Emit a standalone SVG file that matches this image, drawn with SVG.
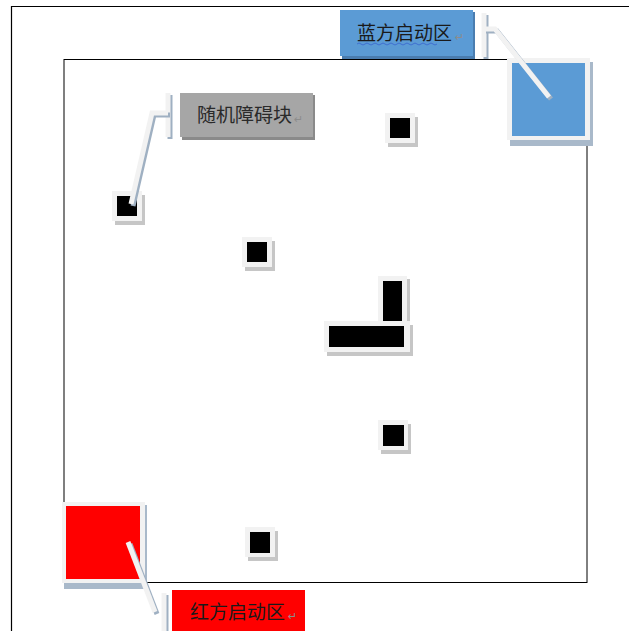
<svg xmlns="http://www.w3.org/2000/svg" width="629" height="631" viewBox="0 0 629 631">
<style>
.frame{fill:#f2f2f2}
.shd{fill:#c6c6c6}
.bshd{fill:#a9b9ca}
.blk{fill:#000}
.lbl{font-family:"Noto Sans CJK SC","Noto Sans CJK JP",sans-serif;font-size:19px}
.ret{font-family:"DejaVu Sans",sans-serif;font-size:11px;fill:#8c8c8c}
.cl{fill:none;stroke:#f2f2f2;stroke-width:5;stroke-linejoin:miter}
.cls{fill:none;stroke:#9fb0c2;stroke-width:5}
</style>
<rect width="629" height="631" fill="#fff"/>
<path d="M11.5,631 V6.5 H629" fill="none" stroke="#000" stroke-width="1.2"/>
<rect x="64" y="59.5" width="523" height="523" fill="none" stroke="#000" stroke-width="1"/>

<g id="obstacle1"><rect class="shd" x="388" y="117" width="30" height="30"/><rect class="frame" x="385" y="113" width="30" height="30"/><rect class="blk" x="390" y="118" width="20" height="20"/></g>
<g id="obstacle2"><rect class="shd" x="115" y="195" width="30" height="30"/><rect class="frame" x="112" y="191" width="30" height="30"/><rect class="blk" x="117" y="196" width="20" height="20"/></g>
<g id="obstacle3"><rect class="shd" x="245" y="241" width="30" height="30"/><rect class="frame" x="242" y="237" width="30" height="30"/><rect class="blk" x="247" y="242" width="20" height="20"/></g>
<g id="obstacle4"><rect class="shd" x="381" y="424" width="30" height="30"/><rect class="frame" x="378" y="420" width="30" height="30"/><rect class="blk" x="383" y="425" width="21" height="21"/></g>
<g id="obstacle5"><rect class="shd" x="248" y="531" width="30" height="30"/><rect class="frame" x="245" y="527" width="30" height="30"/><rect class="blk" x="250" y="532" width="20" height="21"/></g>
<g id="obstacleL">
<rect class="shd" x="381" y="279" width="29" height="47"/><rect class="frame" x="378" y="276" width="29" height="47"/><rect class="blk" x="383" y="281" width="19" height="41"/>
<rect class="shd" x="327" y="325" width="86" height="31"/><rect class="frame" x="324" y="321" width="86" height="31"/><rect class="blk" x="329" y="326" width="75" height="21"/>
</g>

<g id="blue-zone"><rect class="bshd" x="510" y="62" width="83" height="84"/><rect class="frame" x="507" y="58" width="83" height="82"/><rect x="512" y="63" width="73" height="73" fill="#5b9bd5"/></g>
<g id="red-zone"><rect class="bshd" x="64" y="505" width="83" height="84"/><rect class="frame" x="62" y="502" width="83" height="81"/><rect x="66" y="506" width="74" height="73" fill="#ff0000"/></g>

<g id="connectors">
<path class="cls" d="M486,15 V59"/><path class="cl" d="M484,13 V57"/>
<path class="cls" d="M486,31 H497 L551,99"/><path class="cl" d="M484,29 H495 L549,97"/>
<path class="cls" d="M170,95 V139"/><path class="cl" d="M168,93 V137"/>
<path class="cls" d="M170,115 H154 L133,206"/><path class="cl" d="M168,113 H152 L131,204"/>
<path class="cls" d="M166,595 V631"/><path class="cl" d="M164,593 V631"/>
<path class="cls" d="M130,544 L157,614"/><path class="cl" d="M128,542 L155,612"/>
</g>

<g id="label-blue"><rect x="342" y="12" width="133" height="47" fill="#4a7db0"/><rect x="340" y="10" width="133" height="46" fill="#5b9bd5"/>
<text class="lbl" x="357" y="40" fill="#1a1a1a">蓝方启动区</text><text class="ret" x="455" y="41">↵</text>
<path d="M357,44 q2,-2 4,0 t4,0 t4,0 t4,0 t4,0 t4,0 t4,0 t4,0 t4,0 t4,0 t4,0 t4,0 t4,0 t4,0 t4,0 t4,0 t4,0 t4,0 t4,0 t4,0" fill="none" stroke="#3f6fd0" stroke-width="1"/>
</g>
<g id="label-obstacle"><rect x="182" y="95" width="133" height="45" fill="#8a8a8a"/><rect x="180" y="93" width="133" height="44" fill="#a6a6a6"/>
<text class="lbl" x="197" y="122" fill="#2a2a2a">随机障碍块</text><text class="ret" x="294" y="123">↵</text></g>
<g id="label-red"><rect x="172" y="590" width="133" height="41" fill="#ff0000"/>
<text class="lbl" x="190" y="619" fill="#1a1a1a">红方启动区</text><text class="ret" x="288" y="620">↵</text></g>
</svg>
